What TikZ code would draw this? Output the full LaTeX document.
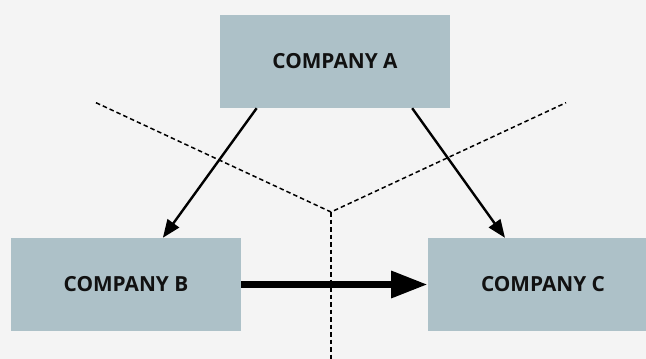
\documentclass[tikz,border=0pt]{standalone}
\usepackage{fontspec}
\setmainfont{Open Sans}
\usetikzlibrary{arrows.meta,calc}
\definecolor{bgc}{HTML}{F4F4F4}
\definecolor{boxc}{HTML}{ADC1C8}
\definecolor{txt}{HTML}{111111}
\begin{document}
\begin{tikzpicture}[x=1pt,y=-1pt,
  cbox/.style={fill=boxc,draw=none,minimum width=230pt,minimum height=93pt,inner sep=0pt,
    font=\fontsize{20.8}{24}\selectfont\bfseries,text=txt},
  divline/.style={line width=1.5pt,dash pattern=on 4.5pt off 3pt},
  thinarrow/.style={line width=2.4pt,-{Triangle[length=18pt,width=14pt]}},
  thickarrow/.style={line width=7.7pt,-{Triangle[length=36.6pt,width=25.4pt]}}]
\fill[bgc] (0,0) rectangle (646,359);
\useasboundingbox (0,0) rectangle (646,359);
\node[cbox] (A) at (335,61.5) {COMPANY A};
\node[cbox] (B) at (126,284.5) {COMPANY B};
\node[cbox] (C) at (543,284.5) {COMPANY C};
\coordinate (L) at (96,102.7);
\coordinate (R) at (566,102.7);
\coordinate (O) at (331,212);
\coordinate (D) at (331,362);
\draw[divline] (L) -- (O) -- (R);
\draw[divline] (O) -- (D);
\draw[thinarrow] ($(A.south west)!0.16!(A.south east)$) -- ($(B.north west)!0.66!(B.north east)$);
\draw[thinarrow] ($(A.south west)!0.835!(A.south east)$) -- ($(C.north west)!0.335!(C.north east)$);
\draw[thickarrow] (B.east) -- (C.west);
\end{tikzpicture}
\end{document}
